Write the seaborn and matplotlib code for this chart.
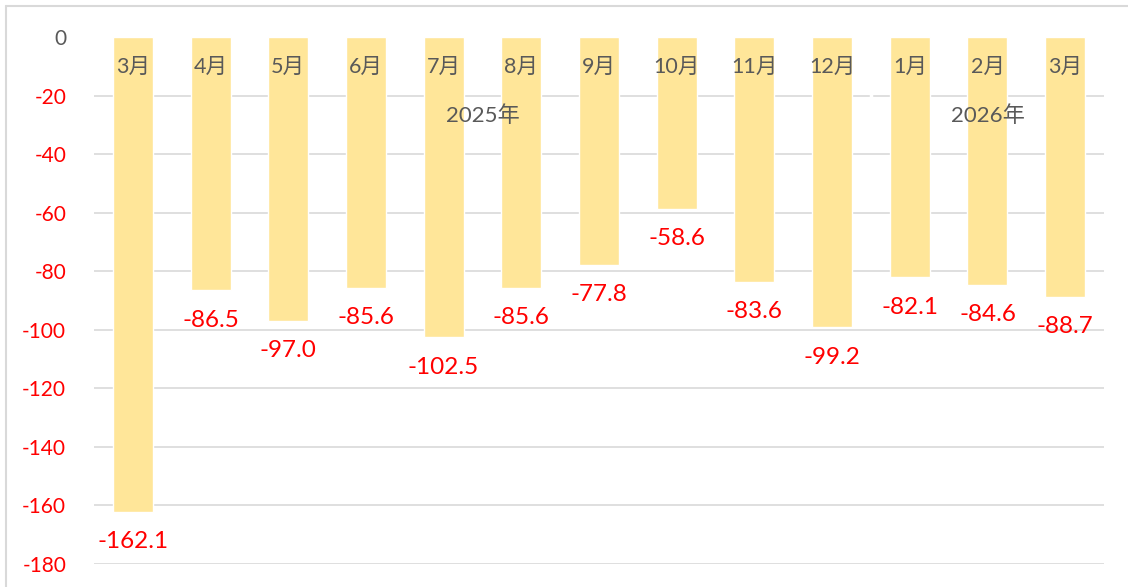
import seaborn as sns
import matplotlib.pyplot as plt
import pandas as pd
from matplotlib.lines import Line2D

# data
months = ["3月", "4月", "5月", "6月", "7月", "8月", "9月", "10月", "11月", "12月", "1月", "2月", "3月"]
years = ["2025年"] * 10 + ["2026年"] * 3
values = [-162.1, -86.5, -97.0, -85.6, -102.5, -85.6, -77.8, -58.6, -83.6, -99.2, -82.1, -84.6, -88.7]
yticks = list(range(-180, 1, 20))

data = pd.DataFrame({
    "key": [f"{y}-{m}" for y, m in zip(years, months)],
    "month": months,
    "year": years,
    "value": values,
})

sns.set_style("white")
plt.rcParams["font.family"] = ["Lato", "Noto Sans CJK SC", "DejaVu Sans"]

gray = "#595959"
fig = plt.figure(figsize=(11.28, 5.87), dpi=100)
ax = fig.add_axes([94 / 1128, 1 - 564 / 587, (1104 - 94) / 1128, (564 - 37) / 587])

sns.barplot(data=data, x="key", y="value", color="#FFE699", width=0.515,
            saturation=1, ax=ax, zorder=3)

ax.set_ylim(-180, 0)
ax.set_yticks(yticks)
ax.set_yticklabels([str(t) for t in yticks], fontsize=15)
for lab, t in zip(ax.get_yticklabels(), yticks):
    lab.set_color(gray if t == 0 else "red")
ax.tick_params(axis="y", length=0, pad=20)
ax.tick_params(axis="x", length=0, labelbottom=False)
ax.set_xlabel("")
ax.set_ylabel("")
for s in ax.spines.values():
    s.set_visible(False)

ax.grid(axis="y", color="#D9D9D9", linewidth=1.2, zorder=0)
for tick, t in zip(ax.yaxis.get_major_ticks(), yticks):
    if t == 0:
        tick.gridline.set_visible(False)

# small break in the top gridline at the year boundary
n_2025 = years.count("2025年")
ax.axvline(n_2025 - 0.5, ymin=0.875, ymax=0.905, color="white", linewidth=2.5, zorder=1)

# value labels under bar ends
ax.bar_label(ax.containers[0], fmt="%.1f", padding=14, color="red", fontsize=17.5)

# month labels inside bars, year labels below
for i, m in enumerate(months):
    ax.text(i, -10.3, m, ha="center", va="center", fontsize=15.5, color=gray, zorder=4)
ax.text((n_2025 - 1) / 2, -27, "2025年", ha="center", va="center", fontsize=16, color=gray, zorder=4)
ax.text(n_2025 + (len(months) - n_2025 - 1) / 2, -27, "2026年", ha="center", va="center",
        fontsize=16, color=gray, zorder=4)

# chart frame
fig.add_artist(Line2D([5.5 / 1128, 5.5 / 1128], [0, 1 - 6 / 587], color="#D9D9D9", linewidth=1.5))
fig.add_artist(Line2D([5.5 / 1128, 1], [1 - 6 / 587, 1 - 6 / 587], color="#D9D9D9", linewidth=1.5))

fig.savefig("out.png", dpi=100)
plt.close()
